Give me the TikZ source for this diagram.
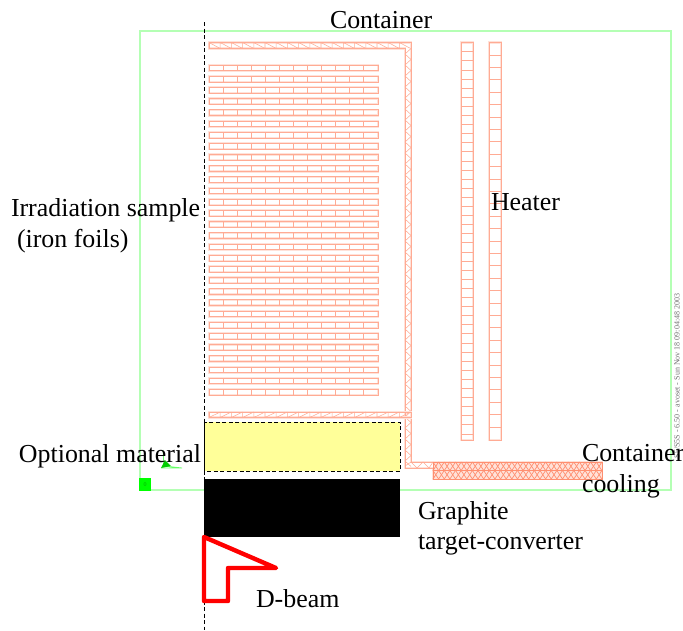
\documentclass[tikz,border=0pt]{standalone}
\usepackage{fontspec}
\setmainfont{Liberation Serif}
\definecolor{frameG}{HTML}{B4FFB4}
\definecolor{meshS}{HTML}{FFAB94}
\definecolor{meshD}{HTML}{FF8F70}
\definecolor{meshL}{HTML}{FFE2D9}
\definecolor{sampleY}{HTML}{FFFF99}
\tikzset{
  lbl/.style={anchor=base west,inner sep=0pt,outer sep=0pt,font=\fontsize{25.9}{30}\selectfont,text=black},
  mesh/.style={draw=meshS,line width=0.7pt,preaction={draw=meshL,line width=2.2pt}},
  fine/.style={draw=meshS,line width=0.55pt},
  dense/.style={draw=meshD,line width=0.7pt},
  beam/.style={draw=red,line width=4.4pt,line join=round},
}
\begin{document}
\begin{tikzpicture}[x=1pt,y=-1pt]
\useasboundingbox (0,0) rectangle (683,630);
% frame
\draw[frameG,line width=2pt] (140,31) rectangle (671,490);
\fill[green] (139,478) rectangle (151,491);
\node[inner sep=0pt,text=green!70!black,font=\fontsize{6}{7}\selectfont] (zero) at (145,484.5) {0};
% axis triad
\coordinate (ax0) at (164,466);
\coordinate (axU) at (163,450);
\coordinate (axR) at (182,468);
\draw[green!60!white,line width=0.8pt] (ax0) -- (axU);
\draw[green!60!white,line width=0.8pt] (ax0) -- (axR) (161,468) -- (182,468);
\fill[green!80!black] (161,468) -- (165,460) -- (171,466) -- cycle;
% foils
\foreach \r in {0,...,29}{
  \pgfmathsetmacro{\yy}{65+11.18*\r}
  \pgfmathsetmacro{\yb}{\yy+5.8}
  \draw[mesh] (209,\yy) rectangle (378,\yb);
  \foreach \c in {1,...,11}{
    \pgfmathsetmacro{\xx}{209+14*\c}
    \draw[fine] (\xx,\yy) -- (\xx,\yb);
  }
}
% container top
\draw[mesh] (209,42.5) -- (411,42.5) -- (411,462) -- (602,462) -- (602,479) -- (433,479) -- (433,468) -- (405,468) -- (405,48.5) -- (209,48.5) -- cycle;
\foreach \c in {0,...,17}{
  \pgfmathsetmacro{\xa}{209+11.2*\c}
  \pgfmathsetmacro{\xb}{\xa+11.2}
  \draw[fine] (\xa,42.5) -- (\xa,48.5) (\xa,42.5) -- (\xb,48.5);
}
% right wall zigzag
\foreach \c in {0,...,37}{
  \pgfmathsetmacro{\ya}{48.5+11*\c}
  \pgfmathsetmacro{\yb}{\ya+5.5}
  \pgfmathsetmacro{\yc}{\ya+11}
  \draw[fine] (411,\ya) -- (405,\yb) -- (411,\yc);
}
\draw[fine] (405,466) -- (411,462) -- (417,468) -- (423,462) -- (429,468) -- (433,462);
% bottom plate of container
\draw[mesh] (209,412) rectangle (411,417.5);
\foreach \c in {0,...,17}{
  \pgfmathsetmacro{\xa}{209+11.2*\c}
  \pgfmathsetmacro{\xb}{\xa+11.2}
  \draw[fine] (\xa,412) -- (\xa,417.5) (\xa,417.5) -- (\xb,412);
}
% cooling channel mesh
\fill[meshL] (433,462) rectangle (602,479);
\foreach \c in {0,...,29}{
  \pgfmathsetmacro{\xa}{433+5.63*\c}
  \pgfmathsetmacro{\xb}{\xa+5.63}
  \draw[dense] (\xa,462) -- (\xb,470.5) -- (\xa,479);
  \draw[dense] (\xb,462) -- (\xa,470.5) -- (\xb,479);
}
\draw[dense] (433,470.5) -- (602,470.5);
\draw[dense] (433,462) rectangle (602,479);
% heaters
\draw[mesh] (461,42.5) rectangle (473,440);
\draw[mesh] (489,42.5) rectangle (501,440);
\foreach \c in {1,...,43}{
  \pgfmathsetmacro{\yy}{42.5+9.1*\c}
  \draw[fine] (461,\yy) -- (473,\yy);
}
\foreach \c in {1,...,31}{
  \pgfmathsetmacro{\yy}{42.5+12.4*\c}
  \draw[fine] (489,\yy) -- (501,\yy);
}
% yellow, black
\path[fill=sampleY] (204,422) rectangle (400,471);
\draw[black,line width=1pt,dash pattern=on 4pt off 2.5pt] (204,422) rectangle (400,471);
\fill[black] (204,479) rectangle (400,537);
% axis line
\coordinate (lineT) at (204,22);
\coordinate (lineB) at (204,630);
\draw[black,line width=1pt,dash pattern=on 4pt off 2.5pt] (lineT) -- (lineB);
% beam arrow
\draw[beam] (204,537) -- (276,568) -- (228,568) -- (228,601) -- (204,601) -- cycle;
% run stamp
\node[rotate=90,inner sep=0pt,text=black!55,font=\fontsize{8}{9}\selectfont] (stamp) at (677,376) {S5/S5S - 6.50 - avoset - Sun Nov 18 09:04:48 2003};
% labels
\node[lbl] (t1) at (330,28) {Container};
\node[lbl] (t2) at (11,216) {Irradiation sample};
\node[lbl] (t3) at (17,247.5) {(iron foils)};
\node[lbl] (t4) at (491,210.5) {Heater};
\node[lbl] (t5) at (19,462) {Optional material};
\node[lbl] (t6) at (582,461) {Container};
\node[lbl] (t7) at (582,492) {cooling};
\node[lbl] (t8) at (418,519) {Graphite};
\node[lbl] (t9) at (418,549) {target-converter};
\node[lbl] (t10) at (256,607) {D-beam};
\end{tikzpicture}
\end{document}
